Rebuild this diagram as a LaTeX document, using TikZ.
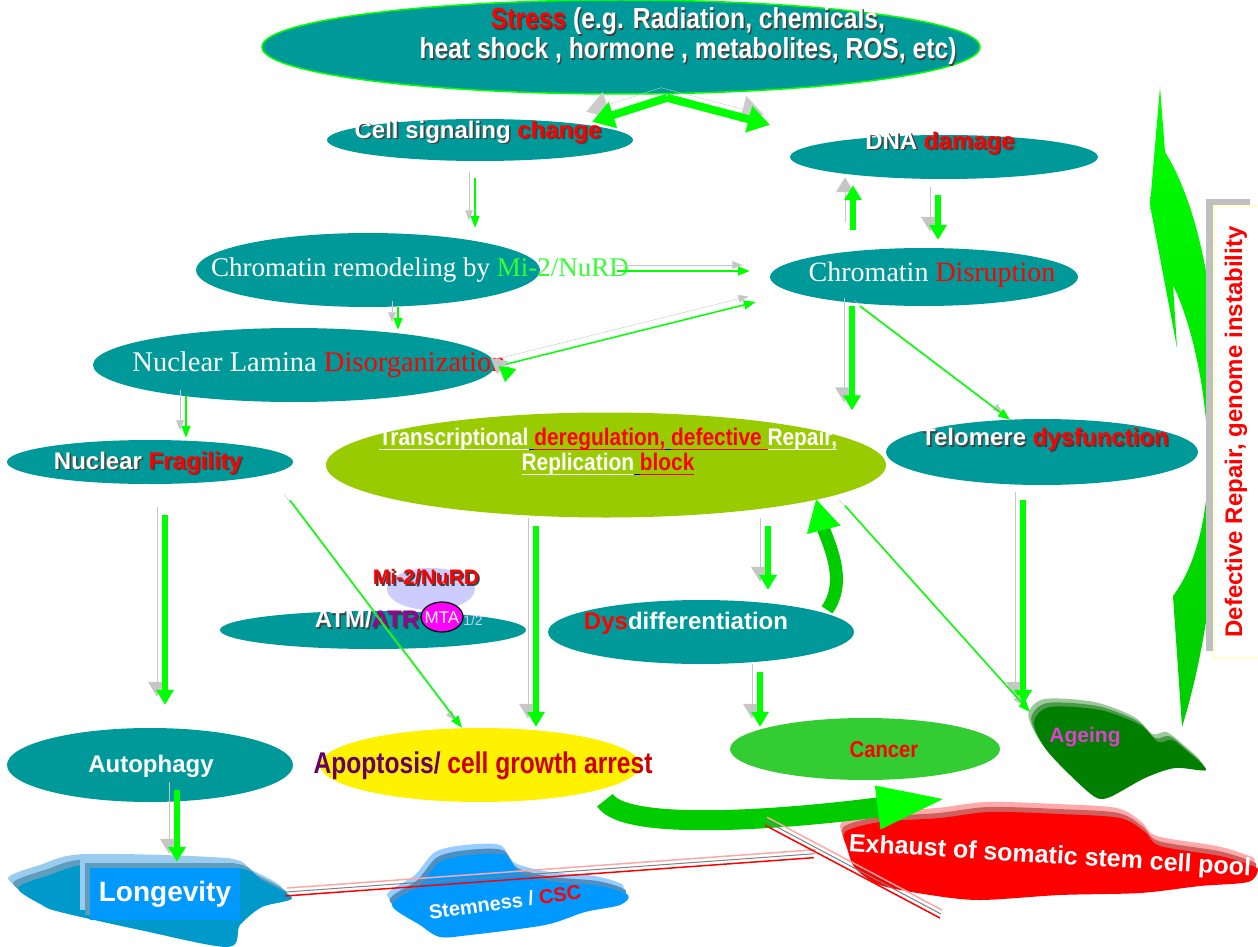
\documentclass[tikz,border=0pt]{standalone}
\usepackage{fontspec}
\usepackage{graphicx}
\setmainfont{Liberation Sans}
\newfontfamily\serf{Liberation Serif}
\usetikzlibrary{arrows.meta,calc,shapes.geometric}

\definecolor{cellteal}{HTML}{009999}
\definecolor{transgreen}{HTML}{99CC00}
\definecolor{arrgreen}{HTML}{00FF00}
\definecolor{darkarr}{HTML}{00CC00}
\definecolor{nurdgreen}{HTML}{33FF33}
\definecolor{cancergreen}{HTML}{33CC33}
\definecolor{ageinggreen}{HTML}{007F00}
\definecolor{ageinglight}{HTML}{9CC99C}
\definecolor{ageingmid}{HTML}{4A9A4A}
\definecolor{ageingpink}{HTML}{E040D0}
\definecolor{atrpurple}{HTML}{990099}
\definecolor{apopurple}{HTML}{660066}
\definecolor{arrestred}{HTML}{CC0000}
\definecolor{nurdblue}{HTML}{CCCCFF}
\definecolor{mtapink}{HTML}{FF00FF}
\definecolor{longblue}{HTML}{0099FF}
\definecolor{blobblue}{HTML}{0099CC}
\definecolor{longlight}{HTML}{99CCEE}
\definecolor{longmid}{HTML}{5F9DBE}
\definecolor{stemlight}{HTML}{99CCFF}
\definecolor{stemmid}{HTML}{4D8FC0}
\definecolor{exhlight}{HTML}{FFAAAA}
\definecolor{exhmid}{HTML}{D06060}
\definecolor{boxyellow}{HTML}{FFFFCC}

\newcommand{\rd}[1]{\textcolor{red}{#1}}
\newcommand{\pp}[1]{\textcolor{atrpurple}{#1}}
% white label with a dark drop shadow
\newcommand{\shtxt}[1]{\makebox[0pt][l]{\hspace{1.6pt}\raisebox{-1.6pt}{\let\rd\relax\let\pp\relax\color{black!75}#1}}#1}
% underline at a fixed depth
\newlength{\ulw}
\newcommand{\uln}[1]{\settowidth{\ulw}{#1}\makebox[0pt][l]{\rule[-4.5pt]{\ulw}{1.3pt}}#1}

\begin{document}
\begin{tikzpicture}[x=1pt, y=-1pt,
	oval/.style={ellipse, fill=cellteal, inner sep=0pt},
	lbl/.style={font=\fontsize{24}{28}\selectfont\bfseries, text=white, inner sep=0pt, align=center},
	serlbl/.style={font=\fontsize{28}{32}\selectfont\serf, text=white, inner sep=0pt},
	sidebox/.style={draw=boxyellow, line width=2pt, fill=white, rotate=90, minimum width=452pt,
		minimum height=45pt, text=red, font=\fontsize{24}{28}\selectfont\bfseries, inner sep=0pt},
	thinarr/.style={draw=arrgreen, line width=1.5pt, -{Triangle[width=9pt,length=12pt]},
		preaction={draw=gray!45, transform canvas={xshift=-6pt,yshift=6pt}}},
	thickarr/.style={draw=arrgreen, line width=5.5pt, -{Triangle[width=17pt,length=15pt]},
		preaction={draw=gray!45, transform canvas={xshift=-8pt,yshift=8pt}}},
	bigarr/.style={draw=arrgreen, line width=8pt, -{Triangle[width=26pt,length=22pt]},
		preaction={draw=gray!40, transform canvas={xshift=-6pt,yshift=10pt}}},
	curvarr/.style={draw=darkarr, line width=13pt, -{Triangle[width=32pt,length=32pt,color=arrgreen]}},
	blockarr/.style={draw=darkarr, line width=20pt, -{Triangle[width=36pt,length=80pt,color=arrgreen]}},
	redline/.style={draw=red, line width=1.5pt,
		preaction={draw=gray, line width=1pt, transform canvas={xshift=1pt,yshift=4pt}},
		preaction={draw=red!35, line width=1.5pt, transform canvas={xshift=2pt,yshift=8pt}}}
	]
	
	\useasboundingbox (0,0) rectangle (1258,947);
	
	% Big curved arrow and label on the right
	\shade[top color=arrgreen, bottom color=darkarr] (1160,87) -- (1165,152)
		.. controls (1195,200) and (1212,280) .. (1216,360)
		.. controls (1226,480) and (1215,620) .. (1182,727)
		-- (1173,596)
		.. controls (1200,560) and (1210,500) .. (1208,450)
		.. controls (1205,380) and (1190,320) .. (1173,285)
		-- (1177,348) -- (1150,205) -- cycle;
	\fill[gray!50] (1206,199) rectangle (1250,651);
	\node[sidebox] (defect) at (1236,432) {Defective Repair, genome instability};
	
	% Stress
	\node[oval, draw=arrgreen, line width=1.5pt, minimum width=718pt, minimum height=94pt] (stress) at (621,47) {};
	\node[lbl, font=\fontsize{29}{30}\selectfont\bfseries] (stresstxt) at (688,37)
		{\scalebox{0.85}[1]{\shtxt{\rd{Stress} (e.g. Radiation, chemicals,}}\\
		 \scalebox{0.85}[1]{\shtxt{heat shock , hormone , metabolites, ROS, etc)}}};
	
	% First row
	\node[oval, minimum width=306pt, minimum height=42pt] (cellsig) at (480,140) {};
	\node[lbl] (cellsigtxt) at (478,133) {\shtxt{Cell signaling \rd{change}}};
	\node[oval, minimum width=308pt, minimum height=44pt] (dna) at (944,157) {};
	\node[lbl] (dnatxt) at (940,144) {\shtxt{DNA \rd{damage}}};
	
	% Chromatin
	\node[oval, minimum width=344pt, minimum height=74pt] (remod) at (368,270) {};
	\node[serlbl, font=\fontsize{27}{30}\selectfont\serf] (remodtxt) at (420,270)
		{Chromatin remodeling by \textcolor{nurdgreen}{Mi-2/NuRD}};
	\node[oval, minimum width=308pt, minimum height=58pt] (disrupt) at (924,277) {};
	\node[serlbl] (disrupttxt) at (932,275) {Chromatin \rd{Disruption}};
	\node[oval, minimum width=402pt, minimum height=74pt] (lamina) at (294,365) {};
	\node[serlbl, font=\fontsize{28.5}{32}\selectfont\serf] (laminatxt) at (319,365) {Nuclear Lamina \rd{Disorganization}};
	
	% Middle row
	\node[oval, minimum width=286pt, minimum height=44pt] (fragil) at (150,462) {};
	\node[lbl] (fragiltxt) at (148,464) {\shtxt{Nuclear \rd{Fragility}}};
	\node[oval, fill=transgreen, minimum width=560pt, minimum height=105pt] (transc) at (606,465) {};
	\node[lbl, font=\fontsize{24}{25}\selectfont\bfseries] (transctxt) at (608,452)
		{\scalebox{0.87}[1]{\uln{Transcriptional}\textcolor{blue}{\uln{\ }}\textcolor{red}{\uln{deregulation,}}\textcolor{blue}{\uln{\ }}\textcolor{red}{\uln{defective\ }}\uln{Repair,}}\\
		 \scalebox{0.87}[1]{\uln{Replication}\textcolor{blue}{\uln{\ }}\textcolor{red}{\uln{block}}}};
	\node[oval, minimum width=312pt, minimum height=66pt] (telo) at (1042,452) {};
	\node[lbl] (telotxt) at (1045,440) {\shtxt{Telomere \rd{dysfunction}}};
	
	% ATM/ATR with the Mi-2/NuRD complex
	\node[ellipse, fill=nurdblue, minimum width=88pt, minimum height=42pt, inner sep=0pt] (nurd) at (431,589) {};
	\node[lbl, text=red, font=\fontsize{21}{24}\selectfont\bfseries] (nurdtxt) at (426,578) {\shtxt{Mi-2/NuRD}};
	\node[oval, minimum width=306pt, minimum height=38pt] (atm) at (373,630) {};
	\node[lbl] (atmtxt) at (367,620) {\shtxt{ATM/\pp{ATR}}};
	\node[ellipse, fill=mtapink, draw=black, line width=1.2pt, minimum width=42pt, minimum height=30pt, inner sep=0pt] (mta) at (442,617) {};
	\node[text=white, font=\fontsize{17}{20}\selectfont, inner sep=0pt] (mtatxt) at (442,618) {MTA};
	\node[text=nurdblue, font=\fontsize{14}{16}\selectfont, inner sep=0pt] (mtanum) at (473,620) {1/2};
	
	\node[oval, minimum width=306pt, minimum height=64pt] (dysdiff) at (701,632) {};
	\node[lbl] (dysdifftxt) at (686,623) {\rd{Dys}differentiation};
	
	% Bottom row
	\node[oval, minimum width=286pt, minimum height=74pt] (autoph) at (150,765) {};
	\node[lbl] (autophtxt) at (151,766) {Autophagy};
	\node[oval, fill=yellow, minimum width=320pt, minimum height=74pt] (apop) at (480,765) {};
	\node[lbl, text=arrestred, font=\fontsize{30}{32}\selectfont\bfseries] (apoptxt) at (483,766)
		{\scalebox{0.82}[1]{\textcolor{apopurple}{Apoptosis/} cell growth arrest}};
	\node[oval, fill=cancergreen, minimum width=270pt, minimum height=62pt] (cancer) at (865,749) {};
	\node[lbl, text=red, font=\fontsize{23}{26}\selectfont\bfseries] (cancertxt) at (884,750) {\scalebox{0.88}[1]{Cancer}};
	
	% Ageing
	\foreach \off/\col in {8/ageinglight, 4/ageingmid, 0/ageinggreen}
		\fill[\col, shift={(-\off*0.7,-\off)}] plot[smooth cycle, tension=0.5] coordinates
			{(1034,722) (1050,707) (1100,710) (1140,725) (1158,742) (1172,740) (1188,752) (1206,770)
			 (1175,768) (1145,778) (1110,797) (1095,797) (1070,775) (1045,748)};
	\node[lbl, text=ageingpink, font=\fontsize{21}{24}\selectfont\bfseries] (ageingtxt) at (1085,737) {Ageing};
	
	% Longevity
	\foreach \off/\col in {10/longlight, 5/longmid, 0/blobblue}
		\fill[\col, shift={(-\off,-\off)}] plot[smooth cycle, tension=0.5] coordinates
			{(18,888) (50,875) (95,864) (235,868) (262,880) (292,898) (262,907) (240,925)
			 (228,947) (140,930) (60,912) (42,905)};
	\fill[longlight] (80,858) rectangle (230,910);
	\fill[longmid] (85,863) rectangle (235,915);
	\node[fill=longblue, minimum width=150pt, minimum height=52pt, inner sep=0pt, text=white,
		font=\fontsize{28}{32}\selectfont\bfseries] (longev) at (165,894) {Longevity};
	
	% Stemness
	\foreach \off/\col in {10/stemlight, 5/stemmid, 0/longblue}
		\fill[\col, shift={(-\off/2,-\off)}] plot[smooth cycle, tension=0.5] coordinates
			{(392,905) (420,885) (440,862) (470,855) (505,855) (520,873) (555,882) (600,886)
			 (628,895) (620,905) (585,912) (545,925) (470,935) (440,937) (420,925)};
	\node[lbl, rotate=8, font=\fontsize{20}{24}\selectfont\bfseries] (stemtxt) at (505,902) {Stemness / \rd{CSC}};
	
	% Exhaust of stem cell pool
	\foreach \off/\col in {10/exhlight, 5/exhmid, 0/red}
		\fill[\col, shift={(-\off/3,-\off)}] plot[smooth cycle, tension=0.5] coordinates
			{(845,832) (880,822) (940,818) (990,812) (1060,814) (1120,818) (1145,832) (1160,846)
			 (1220,856) (1250,865) (1258,870) (1248,882) (1200,886) (1140,893) (1060,895)
			 (980,900) (930,895) (880,885) (855,868) (848,850)};
	\node[lbl, rotate=-3.5, font=\fontsize{25}{28}\selectfont\bfseries] (exhausttxt) at (1050,857) {Exhaust of somatic stem cell pool};
	\coordinate (redend) at (940,918);
	
	% Arrows from stress
	\draw[bigarr] ($(stress.south)+(46,3)$) -- ($(cellsig.north)+(112,3)$);
	\draw[bigarr] ($(stress.south)+(46,3)$) -- ($(dna.north)+(-174,-10)$);
	
	% Left branch
	\draw[thinarr] ($(cellsig.south)+(-5,17)$) -- ($(remod.north)+(107,-5)$);
	\draw[thinarr] ($(remodtxt.east)+(-12,1)$) -- ($(disrupt.west)+(-20,-6)$);
	\draw[thinarr] ($(remod.south)+(30,0)$) -- ($(lamina.north)+(104,2)$);
	\draw[thinarr] ($(laminatxt.east)+(-3,0)$) -- ($(disrupt.west)+(-14,25)$);
	\draw[thickarr] ($(laminatxt.east)+(2,2)$) -- ($(transc.north)+(-101,-30)$);
	\draw[thinarr] ($(lamina.south)+(-108,-6)$) -- ($(fragil.north)+(36,-2)$);
	
	% Right branch
	\draw[thickarr] ($(dna.south)+(-6,16)$) -- ($(disrupt.north)+(14,-8)$);
	\draw[thickarr] ($(disrupt.north)+(-71,-18)$) -- ($(dna.south)+(-91,6)$);
	\draw[thickarr] ($(disrupt.south)+(-72,0)$) -- ($(transc.north)+(246,-2)$);
	\draw[thinarr] ($(disrupt.south)+(-64,0)$) -- ($(telo.north)+(-32,1)$);
	
	% Lower arrows
	\draw[thickarr] ($(fragil.south)+(15,31)$) -- ($(autoph.north)+(15,-23)$);
	\draw[thinarr] ($(fragil.south)+(140,16)$) -- ($(apop.north)+(-18,0)$);
	\draw[thickarr] ($(transc.south)+(-70,8)$) -- ($(apop.north)+(56,-1)$);
	\draw[thickarr] ($(transc.south)+(162,8)$) -- ($(dysdiff.north)+(67,-10)$);
	\draw[curvarr] ($(dysdiff.north)+(126,10)$) .. controls +(22,-30) and +(10,40) .. ($(transc.south)+(210,-19)$);
	\draw[thickarr] ($(telo.south)+(-19,15)$) -- ($(ageingtxt.north)+(-62,-22)$);
	\draw[thinarr] ($(transc.south)+(239,-12)$) -- ($(ageingtxt.north)+(-55,-15)$);
	\draw[thickarr] ($(dysdiff.south)+(59,8)$) -- ($(cancer.north)+(-105,9)$);
	\draw[thickarr] ($(autoph.south)+(27,-12)$) -- ($(longev.north)+(12,-6)$);
	\draw[blockarr] ($(apop.south)+(125,-2)$) .. controls +(20,32) and +(-170,22) .. ($(cancer.south)+(92,17)$);
	
	% Red lines
	\draw[redline] ($(longev.east)+(45,2)$) -- ($(exhausttxt.west)+(-35,13)$);
	\draw[redline] ($(cancer.south)+(-100,45)$) -- (redend);
	
\end{tikzpicture}
\end{document}
